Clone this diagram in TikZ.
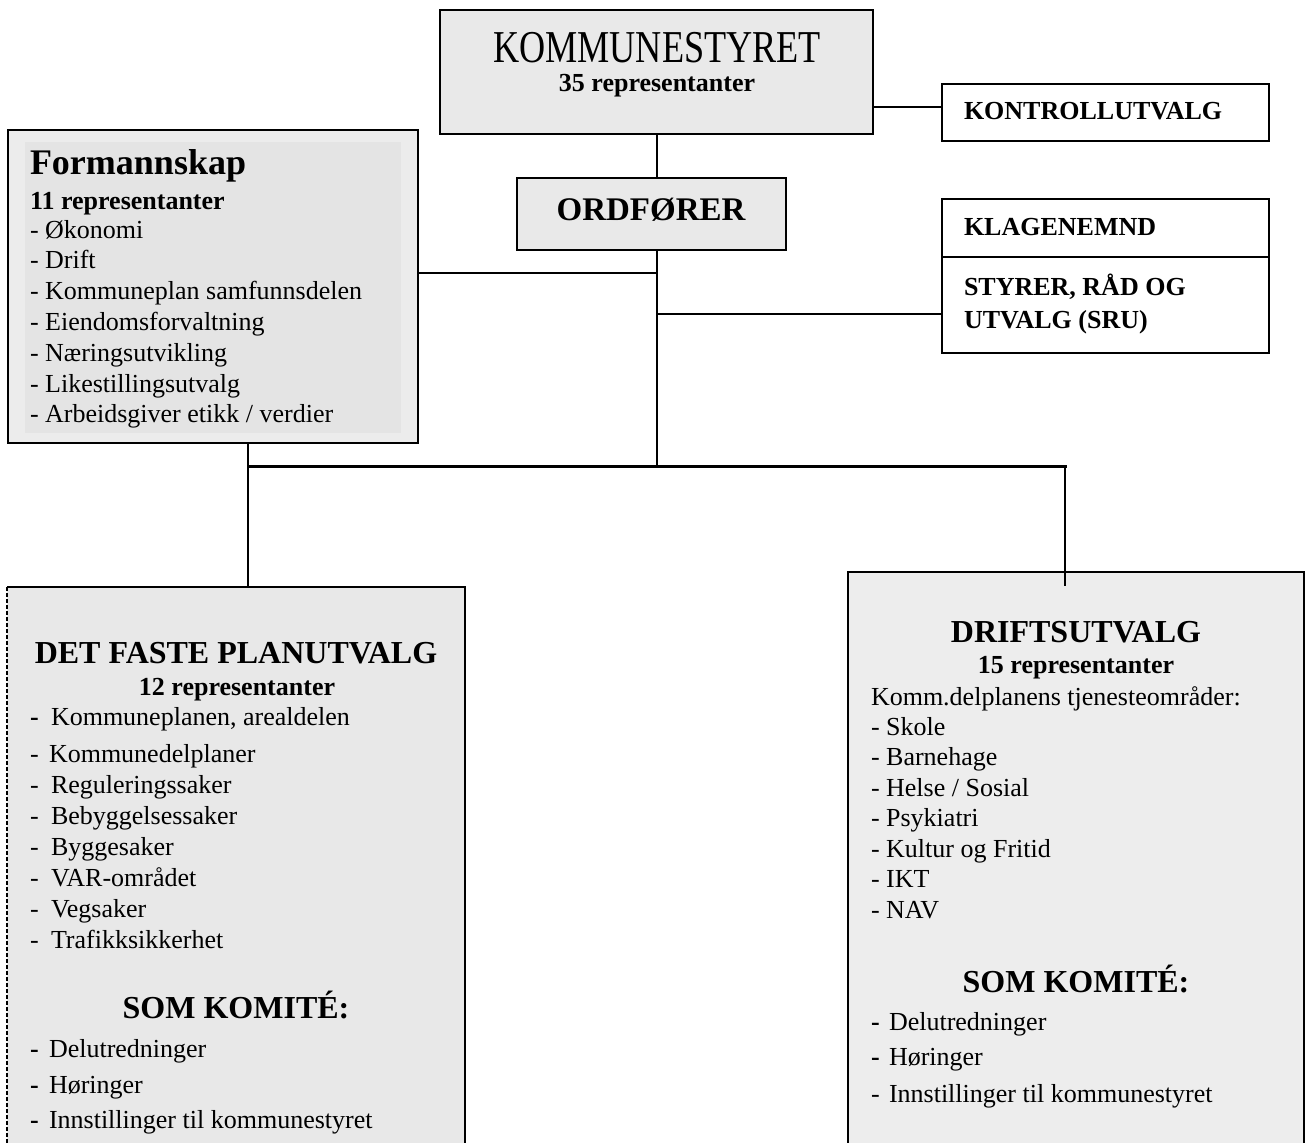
\documentclass[tikz,border=0pt]{standalone}
\usepackage{fontspec}
\setmainfont{Liberation Serif}
\usepackage{graphicx}
\definecolor{ksgray}{HTML}{E9E9E9}
\definecolor{formout}{HTML}{ECECEC}
\definecolor{formin}{HTML}{E4E4E4}
\definecolor{plangray}{HTML}{E8E8E8}
\definecolor{driftgray}{HTML}{EDEDED}
\begin{document}
\begin{tikzpicture}[x=1pt,y=-1pt,line width=2pt,
  box/.style={draw,line width=2pt,inner sep=0pt,outer sep=0pt,anchor=north west},
  conn/.style={line width=2.2pt},
  txt/.style={anchor=base west,inner sep=0pt,font=\fontsize{26}{30}\selectfont},
  btxt/.style={anchor=base west,inner sep=0pt,font=\fontsize{26}{30}\selectfont\bfseries},
  ctxt/.style={anchor=base,inner sep=0pt,font=\fontsize{26}{30}\selectfont\bfseries},
  head/.style={anchor=base,inner sep=0pt,font=\fontsize{32}{36}\selectfont\bfseries}]
\clip (0,0) rectangle (1305,1142);
\fill[white] (0,0) rectangle (1305,1142);

% boxes
\node[box,fill=ksgray,minimum width=433pt,minimum height=124pt] (ks) at (440,10) {};
\node[box,fill=ksgray,minimum width=269pt,minimum height=72pt] (ord) at (517,178) {};
\node[box,fill=white,minimum width=327pt,minimum height=57pt] (kon) at (942,84) {};
\node[box,fill=white,minimum width=327pt,minimum height=58pt] (kla) at (942,199) {};
\node[box,fill=white,minimum width=327pt,minimum height=96pt] (sru) at (942,257) {};
\node[box,fill=formout,minimum width=410pt,minimum height=313pt] (form) at (8,130) {};
\node[anchor=north west,inner sep=0pt,fill=formin,minimum width=376pt,minimum height=291pt] (forminner) at (24,141) {};
\node[anchor=north west,inner sep=0pt,outer sep=0pt,fill=plangray,minimum width=458pt,minimum height=600pt] (plan) at (7,587) {};
\draw (plan.south east) -- (plan.north east) -- (plan.north west);
\draw[dash pattern=on 4pt off 2pt] (plan.north west) -- (plan.south west);
\node[box,fill=driftgray,minimum width=456pt,minimum height=600pt] (drift) at (848,572) {};

% connectors
\coordinate (jk) at (900,107);
\coordinate (jf) at (657,273);
\coordinate (jr) at (657,314);
\coordinate (hub) at (657,466);
\coordinate (hl) at (248,466);
\coordinate (hr) at (1065,466);
\coordinate (dt) at (1065,586);
\draw[conn] (ks.south -| hub) -- (ord.north -| hub);
\draw[conn] (ord.south -| hub) -- (hub);
\draw[conn] (ks.east |- jk) -- (kon.west |- jk);
\draw[conn] (form.east |- jf) -- (jf);
\draw[conn] (jr) -- (sru.west |- jr);
\draw[conn] (form.south -| hl) -- (plan.north -| hl);
\draw[line width=3pt,line cap=rect] (hl) -- (hr);
\draw[conn] (hr) -- (dt);

% KOMMUNESTYRET
\node[anchor=base,inner sep=0pt,text depth=0pt] (kst) at (657,63) {\scalebox{0.77}[0.97]{\fontsize{47}{50}\selectfont KOMMUNESTYRET}};
\node[ctxt,text height=18pt] (ksr) at (657,92) {35 representanter};
\node[anchor=base,inner sep=0pt,font=\fontsize{33}{36}\selectfont\bfseries] (ordt) at (651,220) {ORDFØRER};

% right boxes
\node[btxt] (kont) at (963,120) {KONTROLLUTVALG};
\node[btxt] (klat) at (963,235) {KLAGENEMND};
\node[btxt] (srut1) at (963,295) {STYRER, RÅD OG};
\node[btxt] (srut2) at (963,328) {UTVALG (SRU)};

% Formannskap
\node[anchor=base west,inner sep=0pt,font=\fontsize{36}{40}\selectfont\bfseries] (ft) at (29,175) {Formannskap};
\node[btxt] (fr) at (29,209) {11 representanter};
\foreach \t [count=\i from 0] in {- Økonomi,- Drift,- Kommuneplan samfunnsdelen,- Eiendomsforvaltning,- Næringsutvikling,- Likestillingsutvalg,- Arbeidsgiver etikk / verdier}
  \node[txt] (fi\i) at (29,238+30.8*\i) {\t};

% Det faste planutvalg
\node[head] (pt) at (236,663) {DET FASTE PLANUTVALG};
\node[ctxt] (pr) at (237,695) {12 representanter};
\node[btxt] (pd1) at (29,725) {-};
\node[txt] (pi1) at (50,725) {Kommuneplanen, arealdelen};
\node[txt] (pd2) at (29,762) {-};
\node[txt] (pi2) at (48,762) {Kommunedelplaner};
\foreach \t [count=\i from 3] in {Reguleringssaker,Bebyggelsessaker,Byggesaker,VAR-området,Vegsaker,Trafikksikkerhet} {
  \node[txt] (pd\i) at (29,793+31*\i-93) {-};
  \node[txt] (pi\i) at (50,793+31*\i-93) {\t};
}
\node[head] (pk) at (236,1018) {SOM KOMITÉ:};
\node[btxt] (pkd1) at (29,1057) {-};
\node[txt] (pk1) at (48,1057) {Delutredninger};
\node[btxt] (pkd2) at (29,1093) {-};
\node[txt] (pk2) at (48,1093) {Høringer};
\node[btxt] (pkd3) at (29,1128) {-};
\node[txt] (pk3) at (48,1128) {Innstillinger til kommunestyret};

% Driftsutvalg
\node[head] (dtt) at (1076,642) {DRIFTSUTVALG};
\node[ctxt] (dr) at (1076,673) {15 representanter};
\node[txt] (dk) at (870,705) {Komm.delplanens tjenesteområder:};
\foreach \t [count=\i from 0] in {- Skole,- Barnehage,- Helse / Sosial,- Psykiatri,- Kultur og Fritid,- IKT,- NAV}
  \node[txt] (di\i) at (870,735+30.5*\i) {\t};
\node[head] (dkk) at (1076,992) {SOM KOMITÉ:};
\node[btxt] (dkd1) at (870,1030) {-};
\node[txt] (dk1) at (888,1030) {Delutredninger};
\node[btxt] (dkd2) at (870,1065) {-};
\node[txt] (dk2) at (888,1065) {Høringer};
\node[txt] (dkd3) at (870,1102) {-};
\node[txt] (dk3) at (888,1102) {Innstillinger til kommunestyret};
\end{tikzpicture}
\end{document}
